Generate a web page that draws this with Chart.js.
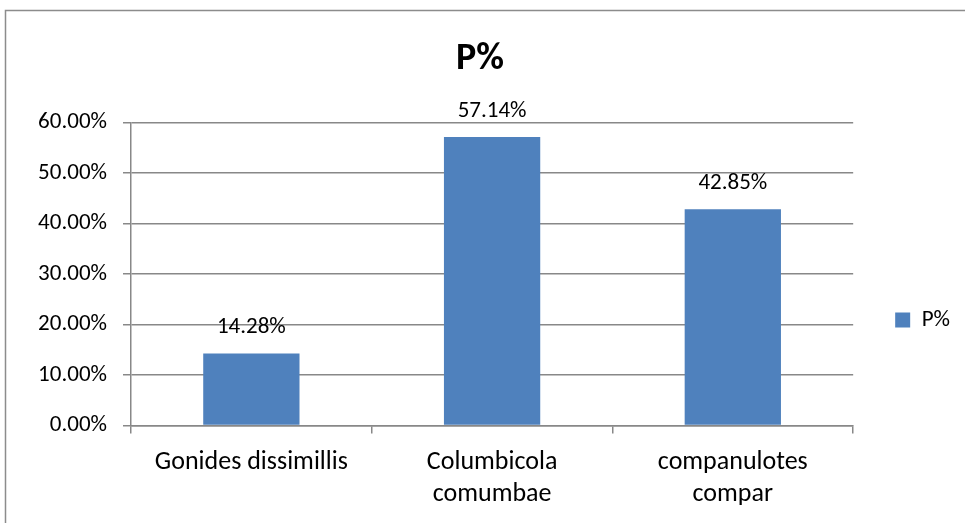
<!DOCTYPE html>
<html>
<head>
<meta charset="utf-8">
<script src="https://cdn.jsdelivr.net/npm/chart.js@4"></script>
<style>
  html, body { margin: 0; padding: 0; background: #fff; }
  #wrap { width: 965px; height: 523px; position: relative; }
</style>
</head>
<body>
<div id="wrap"><canvas id="chart" width="965" height="523"></canvas></div>
<script>
const categories = ['Gonides dissimillis', ['Columbicola', 'comumbae'], ['companulotes', 'compar']];
const seriesName = 'P%';
const pValues = [0.1428, 0.5714, 0.4285];
const dataLabels = ['14.28%', '57.14%', '42.85%'];
const yTicks = [0, 0.1, 0.2, 0.3, 0.4, 0.5, 0.6];

const FONT = 'Carlito, Lato, "Liberation Sans", sans-serif';
const GRID = '#888888';
const BAR = '#4F81BD';

// outer frame of the chart object
const framePlugin = {
    id: 'frame',
    beforeDraw(chart) {
        const ctx = chart.ctx;
        ctx.save();
        ctx.strokeStyle = '#8c8c8c';
        ctx.lineWidth = 1.5;
        ctx.strokeRect(5.5, 10.5, 1000, 600);
        ctx.restore();
    }
};

// value labels above bars
const valueLabels = {
    id: 'valueLabels',
    afterDatasetsDraw(chart) {
        const ctx = chart.ctx;
        const meta = chart.getDatasetMeta(0);
        ctx.save();
        ctx.font = '23px ' + FONT;
        ctx.fillStyle = '#000';
        ctx.textAlign = 'center';
        ctx.textBaseline = 'alphabetic';
        meta.data.forEach((bar, i) => {
            ctx.fillText(dataLabels[i], bar.x, bar.y - 20);
        });
        ctx.restore();
    }
};

new Chart(document.getElementById('chart'), {
    type: 'bar',
    data: {
        labels: categories,
        datasets: [{
            label: seriesName,
            data: pValues,
            backgroundColor: BAR,
            borderWidth: 0,
            categoryPercentage: 1,
            barPercentage: 0.4
        }]
    },
    options: {
        responsive: false,
        animation: false,
        layout: { padding: { left: 0, right: 5, top: 0, bottom: 0 } },
        plugins: {
            title: {
                display: true,
                text: 'P%',
                color: '#000',
                font: { family: FONT, size: 38, weight: 'bold', lineHeight: 1.2 },
                padding: { top: 37, bottom: 40 }
            },
            legend: {
                position: 'right',
                title: { display: true, text: ' ', font: { size: 1 }, padding: { top: 0, bottom: 116 } },
                labels: {
                    color: '#000',
                    font: { family: FONT, size: 23 },
                    boxWidth: 15,
                    boxHeight: 15,
                    padding: 42
                }
            },
            tooltip: { enabled: false }
        },
        scales: {
            x: {
                grid: {
                    drawOnChartArea: false,
                    drawTicks: true,
                    tickLength: 8,
                    color: GRID,
                    lineWidth: 1.5,
                    offset: true
                },
                border: { color: GRID, width: 1.5 },
                ticks: {
                    color: '#000',
                    font: { family: FONT, size: 26, lineHeight: 1.22 },
                    maxRotation: 0,
                    padding: 13
                }
            },
            y: {
                min: 0,
                max: 0.6,
                afterBuildTicks(axis) {
                    axis.ticks = yTicks.map(v => ({ value: v }));
                },
                grid: { color: GRID, lineWidth: 1.5, tickLength: 8 },
                border: { color: GRID, width: 1.5 },
                ticks: {
                    color: '#000',
                    font: { family: FONT, size: 23 },
                    padding: 16,
                    callback: v => (v * 100).toFixed(2) + '%'
                },
                afterFit(axis) { axis.width = 131; }
            }
        }
    },
    plugins: [framePlugin, valueLabels]
});
</script>
</body>
</html>
